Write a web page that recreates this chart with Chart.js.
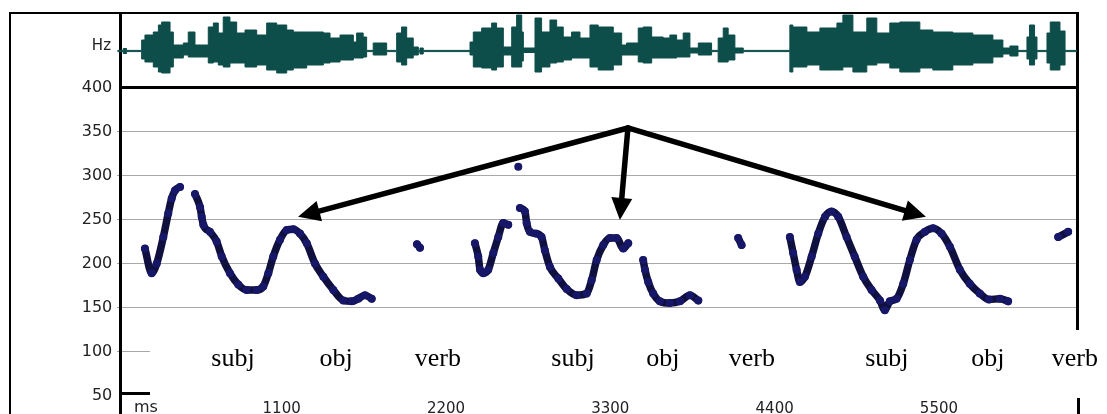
<!DOCTYPE html>
<html>
<head>
<meta charset="utf-8">
<script src="https://cdn.jsdelivr.net/npm/chart.js@4.4.1/dist/chart.umd.min.js"></script>
<style>
  html, body { margin: 0; padding: 0; background: #fff; overflow: hidden; }
  #wrap { position: relative; width: 1107px; height: 414px; overflow: hidden; }
  #pitchBox { position: absolute; left: 0; top: 0; width: 1107px; height: 432px; }
  #waveBox { position: absolute; left: 0; top: 0; width: 1107px; height: 90px; }
</style>
</head>
<body>
<div id="wrap">
  <div id="pitchBox"><canvas id="pitch"></canvas></div>
  <div id="waveBox"><canvas id="wave"></canvas></div>
</div>
<script>
// ---- time axis (ms) ----
const X_MAX = 6424;
const timeTicks = [1100, 2200, 3300, 4400, 5500];
const hzTicks = [50, 100, 150, 200, 250, 300, 350, 400];

// ---- waveform amplitude envelope (value holds until the next time) ----
const waveTime = [0, 40, 62, 163, 185, 241, 275, 297, 353, 375, 442, 475, 520, 609, 643, 676, 709, 754, 799, 855,
  933, 1000, 1067, 1134, 1178, 1268, 1379, 1424, 1491, 1580, 1602, 1646, 1669, 1713, 1803, 1870, 1903, 1937,
  1981, 2015, 2026, 2048,
  2361, 2383, 2439, 2506, 2539, 2584, 2640, 2673, 2707, 2718, 2796, 2840, 2896, 2941, 2985, 3041, 3097, 3164,
  3219, 3320, 3376, 3409, 3487, 3520, 3577, 3654, 3699, 3744, 3788, 3833, 3889, 3978, 4022, 4056, 4089, 4134, 4190,
  4502, 4522, 4616, 4703, 4817, 4857, 4924, 5017, 5084, 5171, 5238, 5372, 5459, 5593, 5727, 5861, 5928, 5975,
  6029, 6089, 6106, 6140, 6156, 6223, 6245, 6310, 6344, 6424];
const waveUpper = [0.6, 2.5, 0.6, 11, 16, 19, 26, 29, 19, 6, 8, 19, 6, 24, 28, 18, 34, 29, 18, 21,
  16, 28, 26, 21, 19, 19, 18, 13, 16, 9, 18, 14, 0.6, 8, 0.6, 18, 24, 13,
  4, 0.6, 3, 0.6,
  9, 19, 23, 28, 23, 4, 24, 36, 19, 3, 33, 19, 31, 24, 14, 19, 13, 26,
  24, 18, 6, 8, 23, 24, 14, 13, 16, 11, 18, 3, 8, 0.6, 13, 23, 16, 3, 0.6,
  26, 24, 19, 23, 28, 36, 19, 33, 18, 28, 29, 21, 19, 18, 16, 11, 3, 5,
  0.6, 14, 26, 14, 0.6, 18, 29, 20, 0.6, 0.6];
const waveLower = [0.6, 2.5, 0.6, 8, 11, 16, 21, 22, 16, 7, 4, 6, 6, 12, 11, 14, 16, 12, 12, 16,
  14, 19, 22, 19, 17, 14, 12, 11, 9, 7, 7, 6, 0.6, 4, 0.6, 11, 14, 7,
  4, 0.6, 3, 0.6,
  4, 16, 17, 19, 16, 4, 16, 16, 10, 1.5, 21, 16, 12, 11, 9, 7, 7, 16,
  19, 14, 4, 4, 11, 12, 7, 7, 7, 6, 6, 2, 4, 0.6, 11, 11, 9, 2, 0.6,
  21, 16, 14, 19, 19, 16, 21, 14, 12, 17, 21, 17, 19, 14, 12, 6, 3, 5,
  0.6, 8, 14, 8, 0.6, 12, 19, 14, 0.6, 0.6];

// ---- pitch track (Hz); null marks an unvoiced gap ----
const f0Time = [
  185, 230, 264, 308, 341, 364, 386, 420, 470,
  520, 554, 565, 576, 620, 665, 699, 754, 810, 866, 933, 977, 1011, 1044, 1089, 1134, 1178, 1223, 1268, 1323,
  1379, 1446, 1513, 1569, 1613, 1658, 1703, 1850,
  2006, 2026, 2200,
  2394, 2416, 2428, 2450, 2483, 2517, 2550, 2583, 2617, 2650,
  2684, 2690,
  2695, 2729, 2740, 2762, 2802, 2840, 2862, 2896, 2952, 3008, 3075, 3142, 3175, 3209, 3253, 3298, 3342, 3387, 3420, 3470,
  3520, 3532, 3554, 3587, 3632, 3699, 3766, 3833, 3889, 4000,
  4156, 4179, 4300,
  4502, 4524, 4547, 4569, 4603, 4648, 4692, 4737, 4781, 4826, 4882, 4936, 4993, 5049, 5105, 5138, 5171, 5216,
  5261, 5305, 5350, 5406, 5461, 5517, 5573, 5640, 5706, 5773, 5835, 5908, 5963, 6100,
  6298, 6365];
const f0Hz = [
  217, 189, 200, 230, 257, 274, 283, 287, null,
  279, 264, 253, 244, 236, 225, 208, 189, 176, 170, 170, 174, 189, 208, 227, 238, 239, 234, 223, 200,
  185, 170, 158, 157, 160, 164, 160, null,
  222, 218, null,
  223, 208, 193, 189, 193, 212, 230, 246, 244, null,
  310, null,
  263, 259, 246, 236, 234, 230, 215, 196, 183, 171, 164, 166, 181, 204, 221, 229, 229, 217, 223, null,
  204, 193, 179, 166, 157, 155, 157, 164, 158, null,
  229, 221, null,
  230, 212, 193, 179, 185, 208, 234, 253, 259, 253, 230, 208, 185, 170, 158, 147, 157, 160,
  177, 204, 227, 236, 240, 234, 219, 193, 177, 166, 159, 160, 157, null,
  230, 236];

// ---- word labels under the contour ----
const wordLabels = ['subj', 'obj', 'verb', 'subj', 'obj', 'verb', 'subj', 'obj', 'verb'];
const wordTime = [774, 1464, 2146, 3050, 3652, 4248, 5151, 5827, 6410];
const wordHz = 84;

// ---- pointer arrows: common origin and three targets (ms, Hz) ----
const arrowOrigin = [3418, 354];
const arrowTargets = [[1210, 253], [3364, 249.5], [5413, 253]];

const WAVE_COLOR = '#0d4d4a';
const TRACK_COLOR = '#10103e';
const POINT_COLOR = '#17176a';
const AXIS_FONT = '"DejaVu Sans", sans-serif';

function drawArrow(ctx, x0, y0, x1, y1) {
  const ang = Math.atan2(y1 - y0, x1 - x0);
  const headLen = 22, headHalf = 10.5;
  const bx = x1 - Math.cos(ang) * headLen, by = y1 - Math.sin(ang) * headLen;
  ctx.beginPath();
  ctx.moveTo(x0, y0);
  ctx.lineTo(bx + Math.cos(ang) * 2, by + Math.sin(ang) * 2);
  ctx.stroke();
  ctx.beginPath();
  ctx.moveTo(x1, y1);
  ctx.lineTo(bx + Math.sin(ang) * headHalf, by - Math.cos(ang) * headHalf);
  ctx.lineTo(bx - Math.sin(ang) * headHalf, by + Math.cos(ang) * headHalf);
  ctx.closePath();
  ctx.fill();
}

const framePlugin = {
  id: 'frame',
  afterDraw(chart) {
    const ctx = chart.ctx;
    const xs = chart.scales.x, ys = chart.scales.y;
    ctx.save();
    // white band holding the word labels
    ctx.fillStyle = '#fff';
    ctx.fillRect(150, 327, 1107 - 150, 71);

    // panel frame
    ctx.fillStyle = '#000';
    ctx.fillRect(9, 12, 1070, 2);        // top edge
    ctx.fillRect(9, 12, 2, 420);         // outer left edge
    ctx.fillRect(119, 12, 3, 420);       // value axis
    ctx.fillRect(119, 86, 960, 3);       // waveform / pitch divider
    ctx.fillRect(1076, 12, 3, 318);      // right edge
    ctx.fillRect(1077, 398, 3, 34);      // right edge, below labels
    ctx.fillRect(119, 392, 31, 3);       // base line stub

    // unit labels
    ctx.fillStyle = '#222';
    ctx.font = '15px ' + AXIS_FONT;
    ctx.textAlign = 'right';
    ctx.textBaseline = 'middle';
    ctx.fillText('Hz', 111, 46);
    ctx.font = '16px ' + AXIS_FONT;
    ctx.textAlign = 'left';
    ctx.textBaseline = 'top';
    ctx.fillText('ms', 134, 400);

    // word labels
    ctx.fillStyle = '#000';
    ctx.font = '26px "Liberation Serif", "Times New Roman", serif';
    ctx.textAlign = 'center';
    ctx.textBaseline = 'alphabetic';
    const yw = ys.getPixelForValue(wordHz);
    wordLabels.forEach((w, i) => ctx.fillText(w, xs.getPixelForValue(wordTime[i]), yw));

    // arrows
    ctx.strokeStyle = '#000';
    ctx.fillStyle = '#000';
    ctx.lineWidth = 5.5;
    ctx.lineCap = 'round';
    ctx.lineJoin = 'round';
    const ox = xs.getPixelForValue(arrowOrigin[0]), oy = ys.getPixelForValue(arrowOrigin[1]);
    arrowTargets.forEach(t => drawArrow(ctx, ox, oy, xs.getPixelForValue(t[0]), ys.getPixelForValue(t[1])));
    ctx.restore();
  }
};

// ---- pitch chart ----
new Chart(document.getElementById('pitch'), {
  type: 'line',
  data: {
    datasets: [{
      data: f0Time.map((t, i) => ({ x: t, y: f0Hz[i] })),
      borderColor: TRACK_COLOR,
      borderWidth: 7.5,
      borderCapStyle: 'round',
      borderJoinStyle: 'round',
      backgroundColor: POINT_COLOR,
      pointRadius: 4,
      pointBorderWidth: 0,
      pointBackgroundColor: POINT_COLOR,
      cubicInterpolationMode: 'monotone',
      spanGaps: false,
      fill: false
    }]
  },
  options: {
    responsive: true,
    maintainAspectRatio: false,
    animation: false,
    events: [],
    layout: { padding: { left: 0, right: 30, top: 87.5, bottom: 0 } },
    plugins: { legend: { display: false }, tooltip: { enabled: false } },
    scales: {
      x: {
        type: 'linear', min: 0, max: X_MAX, position: 'bottom',
        afterFit(s) { s.height = 36.5; },
        afterBuildTicks(s) { s.ticks = timeTicks.map(v => ({ value: v })); },
        grid: { display: false, drawTicks: false },
        border: { display: false },
        ticks: {
          padding: 5, maxRotation: 0, autoSkip: false,
          color: '#222', font: { family: AXIS_FONT, size: 15 },
          callback: v => String(v)
        }
      },
      y: {
        type: 'linear', min: 50, max: 400,
        afterFit(s) { s.width = 117.3; },
        grid: {
          drawTicks: false, lineWidth: 1,
          color: c => (c.tick && c.tick.value >= 100 && c.tick.value <= 350) ? '#a9a9a9' : 'rgba(0,0,0,0)'
        },
        border: { display: false },
        ticks: {
          stepSize: 50, padding: 5,
          color: '#222', font: { family: AXIS_FONT, size: 16 },
          callback: v => hzTicks.includes(v) ? String(v) : ''
        }
      }
    }
  },
  plugins: [framePlugin]
});

// ---- waveform chart ----
new Chart(document.getElementById('wave'), {
  type: 'line',
  data: {
    datasets: [{
      data: waveTime.map((t, i) => ({ x: t, y: waveUpper[i] })),
      stepped: true,
      borderColor: WAVE_COLOR,
      borderWidth: 1,
      backgroundColor: WAVE_COLOR,
      pointRadius: 0,
      fill: '+1'
    }, {
      data: waveTime.map((t, i) => ({ x: t, y: -waveLower[i] })),
      stepped: true,
      borderColor: WAVE_COLOR,
      borderWidth: 1,
      pointRadius: 0,
      fill: false
    }]
  },
  options: {
    responsive: true,
    maintainAspectRatio: false,
    animation: false,
    events: [],
    layout: { padding: { left: 117.3, right: 30, top: 14, bottom: 2 } },
    plugins: { legend: { display: false }, tooltip: { enabled: false } },
    scales: {
      x: { type: 'linear', display: false, min: 0, max: X_MAX },
      y: { type: 'linear', display: false, min: -37, max: 37 }
    }
  }
});
</script>
</body>
</html>
